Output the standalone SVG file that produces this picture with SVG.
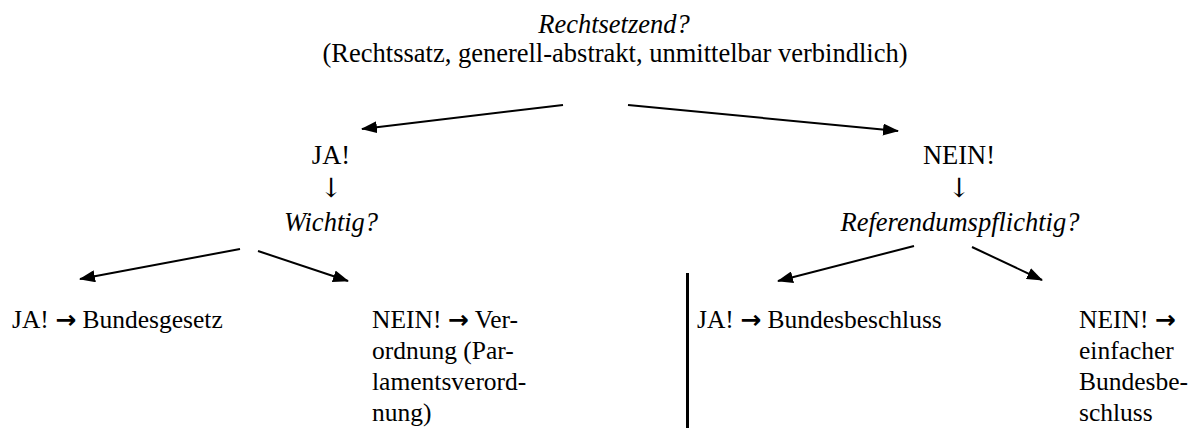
<svg xmlns="http://www.w3.org/2000/svg" width="1192" height="428" viewBox="0 0 1192 428" font-family="Times New Roman, Tinos, Liberation Serif, serif">
<defs>
<marker id="ah" markerWidth="16" markerHeight="12" refX="15" refY="6" orient="auto" markerUnits="userSpaceOnUse" viewBox="0 0 16 12">
<path d="M0,0 L16,6 L0,12 Z" fill="#000"/>
</marker>
</defs>
<g id="root">
<text font-family="Times New Roman, Tinos, Liberation Serif, serif" font-size="26.5" font-style="italic" text-anchor="middle" x="614" y="33">Rechtsetzend?</text>
<text font-family="Times New Roman, Tinos, Liberation Serif, serif" font-size="26.5" text-anchor="middle" x="615" y="62">(Rechtssatz, generell-abstrakt, unmittelbar verbindlich)</text>
</g>
<g id="ja">
<text font-family="Times New Roman, Tinos, Liberation Serif, serif" font-size="26.5" text-anchor="middle" x="331" y="164">JA!</text>
<text font-family="DejaVu Serif, serif" font-size="26.5" text-anchor="middle" x="331" y="197">↓</text>
<text font-family="Times New Roman, Tinos, Liberation Serif, serif" font-size="26.5" font-style="italic" text-anchor="middle" x="331" y="231">Wichtig?</text>
</g>
<g id="nein">
<text font-family="Times New Roman, Tinos, Liberation Serif, serif" font-size="26.5" text-anchor="middle" x="959" y="164">NEIN!</text>
<text font-family="DejaVu Serif, serif" font-size="26.5" text-anchor="middle" x="959" y="197">↓</text>
<text font-family="Times New Roman, Tinos, Liberation Serif, serif" font-size="26.5" font-style="italic" text-anchor="middle" x="960" y="231">Referendumspflichtig?</text>
</g>
<g id="bundesgesetz">
<text font-family="Times New Roman, Tinos, Liberation Serif, serif" font-size="25.5" x="12" y="328">JA! <tspan font-family="DejaVu Sans, sans-serif" font-weight="bold" font-size="25">→</tspan> Bundesgesetz</text>
</g>
<g id="verordnung">
<text font-family="Times New Roman, Tinos, Liberation Serif, serif" font-size="25.5" x="372" y="328">NEIN! <tspan font-family="DejaVu Sans, sans-serif" font-weight="bold" font-size="25">→</tspan> Ver-</text>
<text font-family="Times New Roman, Tinos, Liberation Serif, serif" font-size="25.5" x="372" y="359">ordnung (Par-</text>
<text font-family="Times New Roman, Tinos, Liberation Serif, serif" font-size="25.5" x="372" y="390">lamentsverord-</text>
<text font-family="Times New Roman, Tinos, Liberation Serif, serif" font-size="25.5" x="372" y="421">nung)</text>
</g>
<g id="bundesbeschluss">
<text font-family="Times New Roman, Tinos, Liberation Serif, serif" font-size="25.5" x="697" y="328">JA! <tspan font-family="DejaVu Sans, sans-serif" font-weight="bold" font-size="25">→</tspan> Bundesbeschluss</text>
</g>
<g id="einfacher">
<text font-family="Times New Roman, Tinos, Liberation Serif, serif" font-size="25.5" x="1079" y="328">NEIN! <tspan font-family="DejaVu Sans, sans-serif" font-weight="bold" font-size="25">→</tspan></text>
<text font-family="Times New Roman, Tinos, Liberation Serif, serif" font-size="25.5" x="1079" y="359">einfacher</text>
<text font-family="Times New Roman, Tinos, Liberation Serif, serif" font-size="25.5" x="1079" y="390">Bundesbe-</text>
<text font-family="Times New Roman, Tinos, Liberation Serif, serif" font-size="25.5" x="1079" y="421">schluss</text>
</g>
<g id="divider">
<rect x="686" y="273" width="3" height="155" fill="#000"/>
</g>
<g id="connectors" stroke="#000" stroke-width="2" marker-end="url(#ah)">
<line x1="563" y1="105" x2="362" y2="129"/>
<line x1="628" y1="105" x2="898" y2="131"/>
<line x1="240" y1="249" x2="80" y2="279"/>
<line x1="258" y1="251" x2="348" y2="281"/>
<line x1="914" y1="246" x2="778" y2="281"/>
<line x1="972" y1="247" x2="1042" y2="280"/>
</g>
</svg>
